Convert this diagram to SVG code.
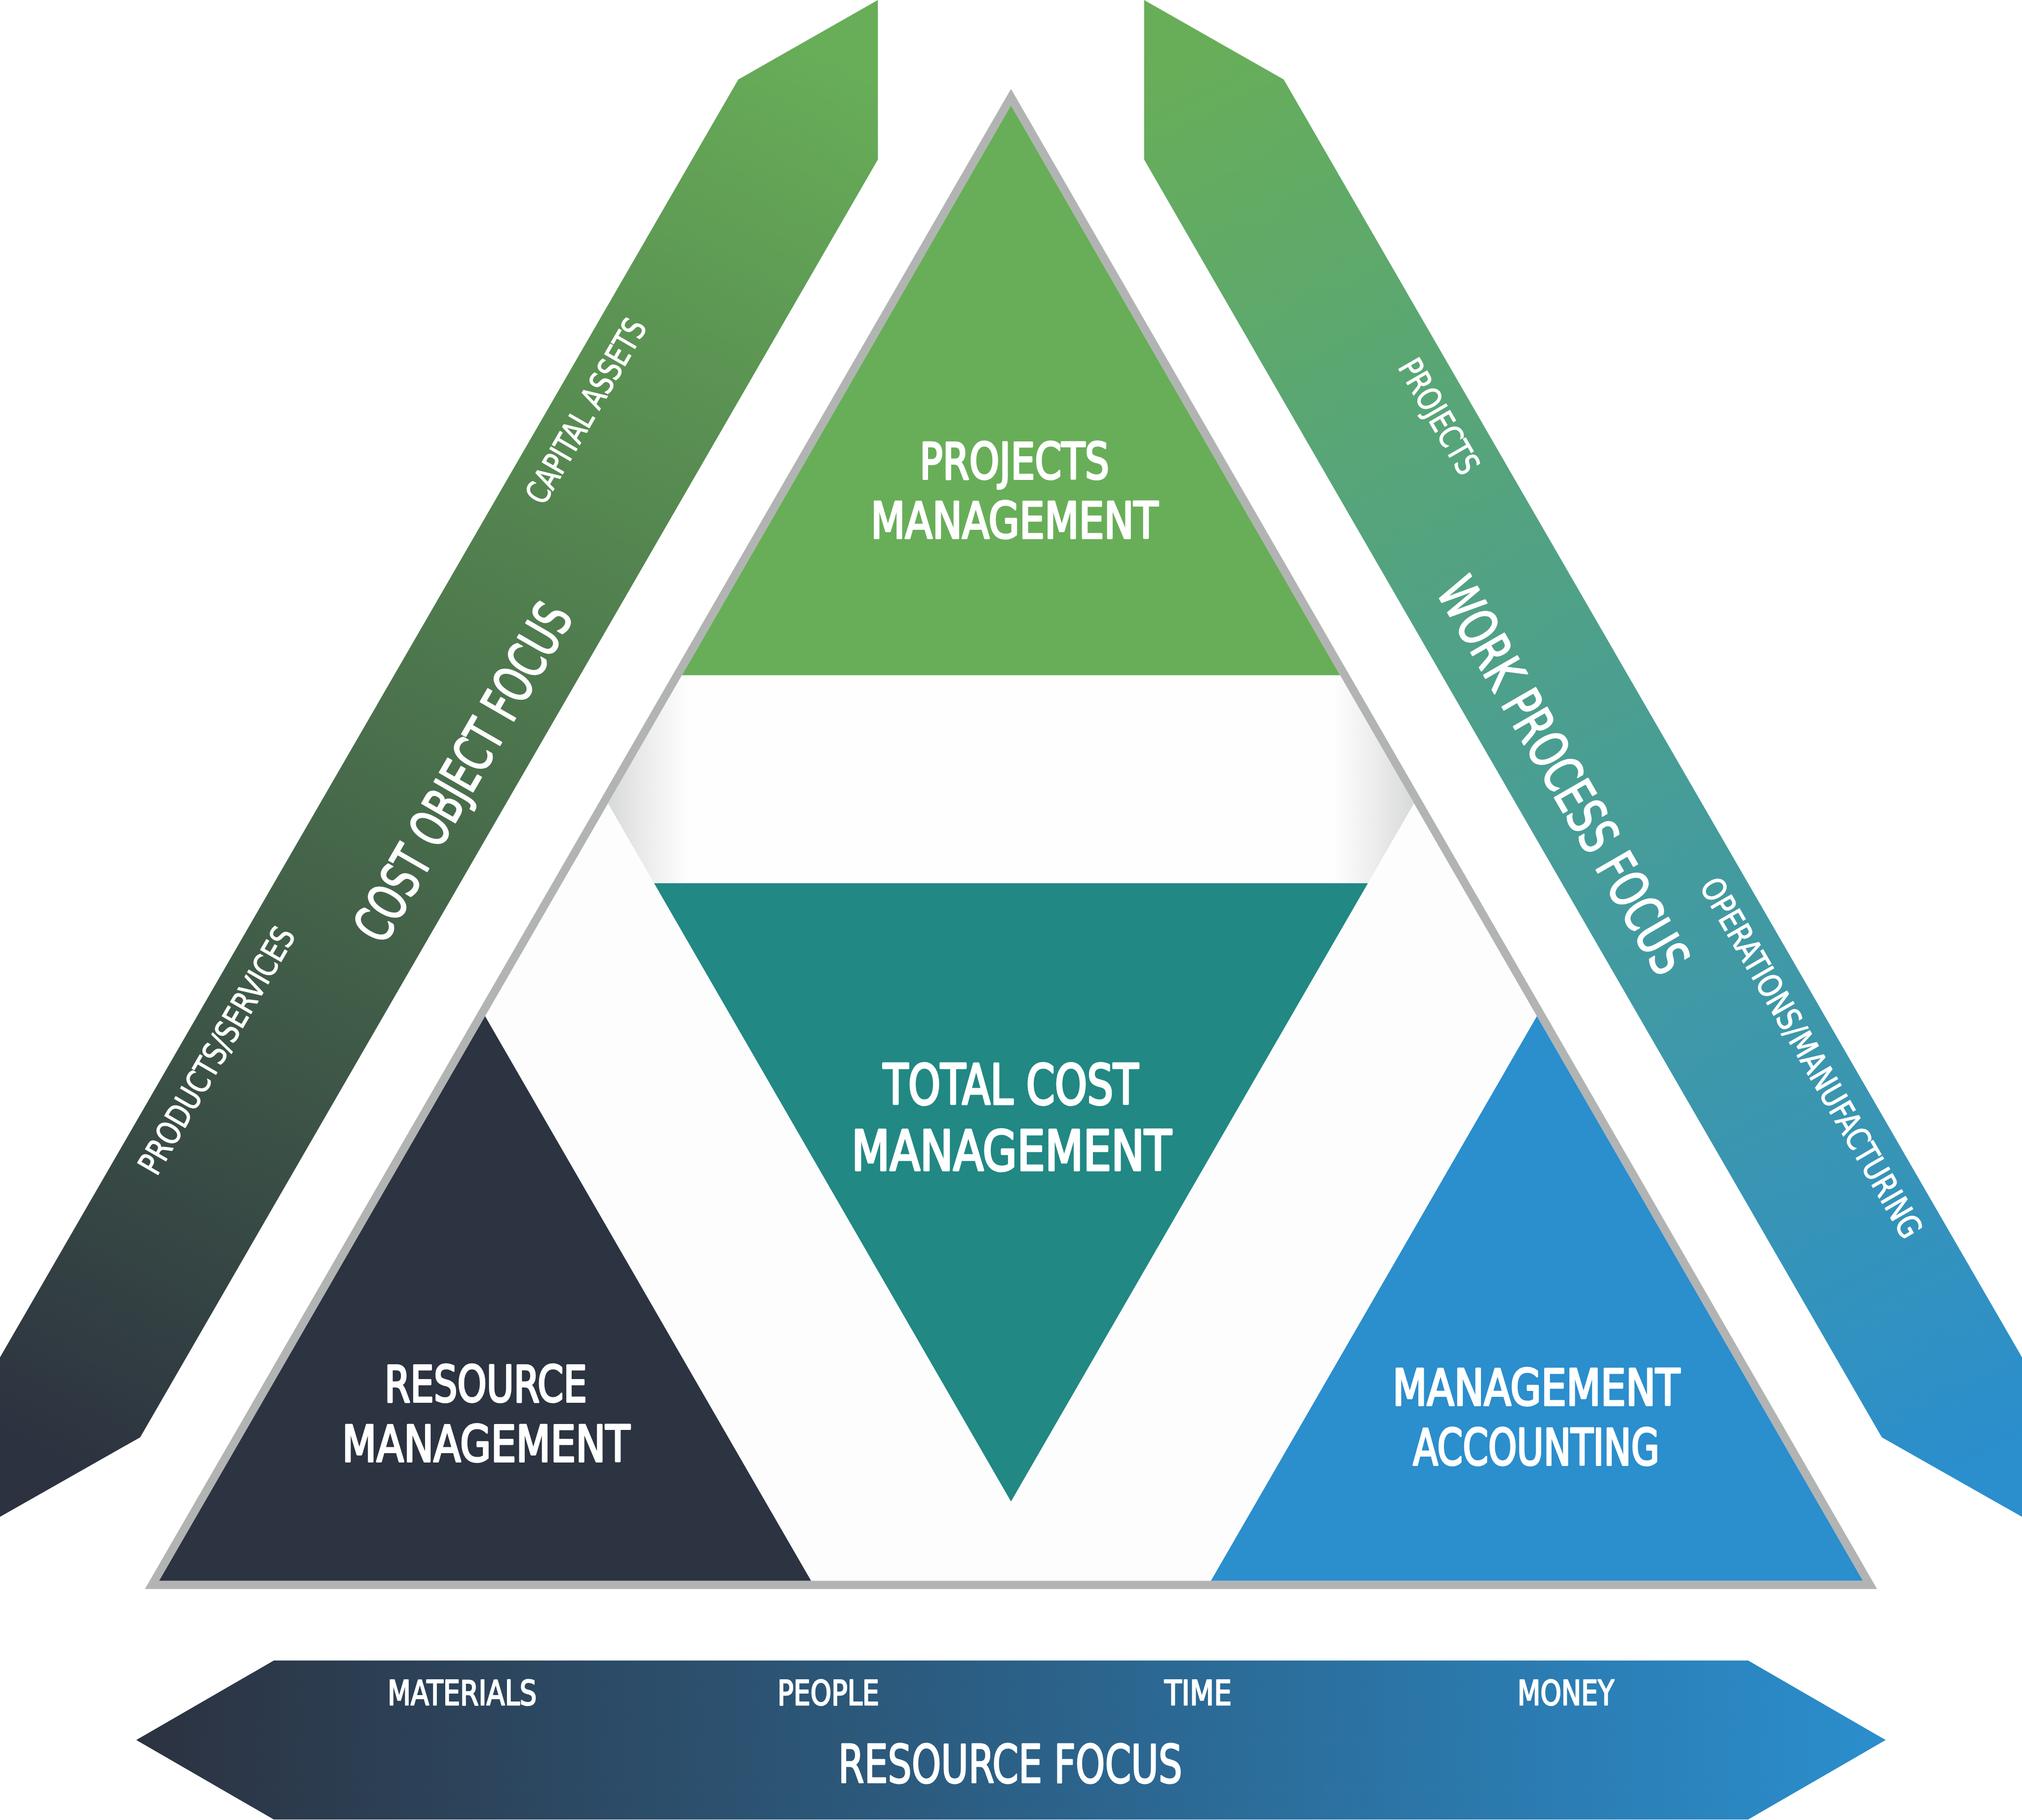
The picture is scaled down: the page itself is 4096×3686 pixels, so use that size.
<svg xmlns="http://www.w3.org/2000/svg" width="4096" height="3686" viewBox="0 0 4096 3686">
<defs>
<linearGradient id="gLeft" gradientUnits="userSpaceOnUse" x1="1640" y1="80" x2="142" y2="2990">
<stop offset="0" stop-color="#68ae58"/><stop offset="1" stop-color="#2c3240"/>
</linearGradient>
<linearGradient id="gRight" gradientUnits="userSpaceOnUse" x1="2456" y1="80" x2="3954" y2="2990">
<stop offset="0" stop-color="#68ae58"/><stop offset="1" stop-color="#2b8ecd"/>
</linearGradient>
<linearGradient id="gBottom" gradientUnits="userSpaceOnUse" x1="276" y1="0" x2="3820" y2="0">
<stop offset="0" stop-color="#2c3240"/><stop offset="1" stop-color="#2b8ecd"/>
</linearGradient>
<linearGradient id="gBand" gradientUnits="userSpaceOnUse" x1="1231.6" y1="0" x2="2864.4" y2="0">
<stop offset="0" stop-color="#d8d9d9"/><stop offset="0.05" stop-color="#ecedec"/><stop offset="0.1" stop-color="#fefefe"/>
<stop offset="0.9" stop-color="#fefefe"/><stop offset="0.95" stop-color="#ecedec"/><stop offset="1" stop-color="#d8d9d9"/>
</linearGradient>
</defs>
<style>
text{font-family:'DejaVu Sans Condensed','DejaVu Sans',sans-serif;fill:#ffffff;stroke:#ffffff;stroke-linejoin:round;text-anchor:middle}
.t{font-size:101px;stroke-width:4px}
.tc{font-size:112px;stroke-width:4.5px}
.f{font-size:107px;stroke-width:3px}
.s{font-size:69px;stroke-width:2.5px}
.r{font-size:66px;stroke-width:1.5px}
</style>
<rect width="4096" height="3686" fill="#ffffff"/>
<g id="cost-object-focus">
<polygon points="1495.5,161 1778.4,0 1778.4,323 284,2911 0,3072 0,2749" fill="url(#gLeft)"/>
<text class="f" transform="translate(936.5,1563) rotate(-60)" x="0" y="39" textLength="770" lengthAdjust="spacingAndGlyphs">COST OBJECT FOCUS</text>
<text class="r" transform="translate(1186,832) rotate(-60)" x="0" y="24" textLength="420" lengthAdjust="spacingAndGlyphs">CAPITAL ASSETS</text>
<text class="r" transform="translate(438,2127) rotate(-60)" x="0" y="24" textLength="565" lengthAdjust="spacingAndGlyphs">PRODUCTS/SERVICES</text>
</g>
<g id="work-process-focus">
<polygon points="2600.5,161 2317.6,0 2317.6,323 3812,2911 4096,3072 4096,2749" fill="url(#gRight)"/>
<text class="f" transform="translate(3168,1570) rotate(60)" x="0" y="39" textLength="905" lengthAdjust="spacingAndGlyphs">WORK PROCESS FOCUS</text>
<text class="r" transform="translate(2916,843) rotate(60)" x="0" y="24" textLength="258" lengthAdjust="spacingAndGlyphs">PROJECTS</text>
<text class="r" transform="translate(3670,2142) rotate(60)" x="0" y="24" textLength="830" lengthAdjust="spacingAndGlyphs">OPERATIONS/MANUFACTURING</text>
</g>
<g id="frame">
<polygon points="2048,180 293.5,3218.3 3802.5,3218.3" fill="#b2b4b3"/>
<polygon points="2048,213.4 322.4,3201.6 3773.6,3201.6" fill="#fdfdfd"/>
<polygon points="1381.5,1367.5 2714.5,1367.5 2864.4,1627 2771,1788.7 1325,1788.7 1231.6,1627" fill="url(#gBand)"/>
</g>
<g id="projects-management">
<polygon points="2048,213.4 1381.5,1367.5 2714.5,1367.5" fill="#68ae58"/>
<text class="t" x="2055" y="969.5" textLength="384" lengthAdjust="spacingAndGlyphs">PROJECTS</text>
<text class="t" x="2055" y="1090.4" textLength="582" lengthAdjust="spacingAndGlyphs">MANAGEMENT</text>
</g>
<g id="total-cost-management">
<polygon points="1325,1788.7 2771,1788.7 2048,3040.9" fill="#218884"/>
<text class="tc" x="2047.5" y="2236.3" textLength="517" lengthAdjust="spacingAndGlyphs">TOTAL COST</text>
<text class="tc" x="2049" y="2370.2" textLength="648" lengthAdjust="spacingAndGlyphs">MANAGEMENT</text>
</g>
<g id="resource-management">
<polygon points="982.7,2058 322.4,3201.6 1643,3201.6" fill="#2c3341"/>
<text class="t" x="984" y="2839" textLength="410" lengthAdjust="spacingAndGlyphs">RESOURCE</text>
<text class="t" x="984.5" y="2959.5" textLength="583" lengthAdjust="spacingAndGlyphs">MANAGEMENT</text>
</g>
<g id="management-accounting">
<polygon points="3113.3,2058 2453,3201.6 3773.6,3201.6" fill="#2b8ecd"/>
<text class="t" x="3112" y="2846" textLength="582" lengthAdjust="spacingAndGlyphs">MANAGEMENT</text>
<text class="t" x="3112" y="2967" textLength="499" lengthAdjust="spacingAndGlyphs">ACCOUNTING</text>
</g>
<g id="resource-focus">
<polygon points="276,3524 554.6,3363 3541.4,3363 3820,3524 3541.4,3685 554.6,3685" fill="url(#gBottom)"/>
<text class="s" x="936.3" y="3453" textLength="302" lengthAdjust="spacingAndGlyphs">MATERIALS</text>
<text class="s" x="1678" y="3453" textLength="206" lengthAdjust="spacingAndGlyphs">PEOPLE</text>
<text class="s" x="2427" y="3453" textLength="136" lengthAdjust="spacingAndGlyphs">TIME</text>
<text class="s" x="3172" y="3453" textLength="196" lengthAdjust="spacingAndGlyphs">MONEY</text>
<text class="f" x="2046.5" y="3610" textLength="697" lengthAdjust="spacingAndGlyphs">RESOURCE FOCUS</text>
</g>
<g id="connectors"/>
</svg>
